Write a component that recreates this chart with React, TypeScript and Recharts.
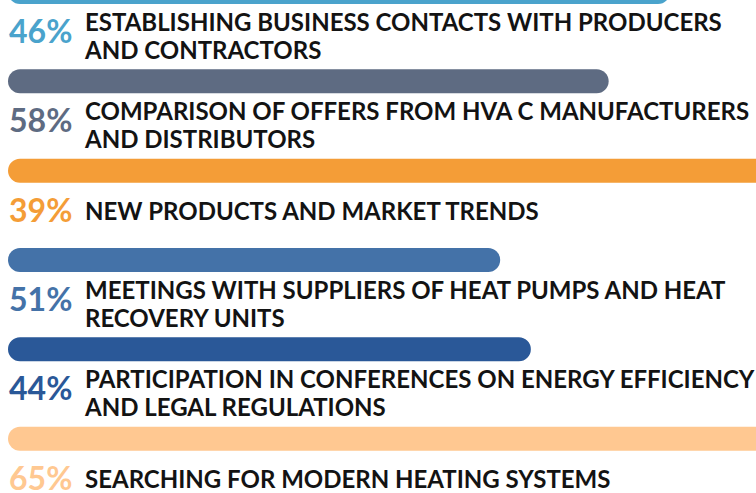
import { BarChart, Bar, XAxis, YAxis, Cell, LabelList } from "recharts"

// rows from top to bottom
const categories = [
  "ESTABLISHING BUSINESS CONTACTS WITH PRODUCERS\nAND CONTRACTORS",
  "COMPARISON OF OFFERS FROM HVA C MANUFACTURERS\nAND DISTRIBUTORS",
  "NEW PRODUCTS AND MARKET TRENDS",
  "MEETINGS WITH SUPPLIERS OF HEAT PUMPS AND HEAT\nRECOVERY UNITS",
  "PARTICIPATION IN CONFERENCES ON ENERGY EFFICIENCY\nAND LEGAL REGULATIONS",
  "SEARCHING FOR MODERN HEATING SYSTEMS",
]
const percents = [46, 58, 39, 51, 44, 65]
// bar length as share of the track (bars past 100 run off the edge)
const barLengths = [88.5, 80.3, 105, 65.8, 69.9, 105]
const colors = ["#4aa3cc", "#5e6b82", "#f49d37", "#4472a8", "#2a5898", "#ffc891"]

const chartData = categories.map((name, i) => ({
  name,
  bar: barLengths[i],
  pct: percents[i],
}))

const FONT = "Lato, 'Open Sans', sans-serif"

function RowLabel(props: any) {
  const { y, height, index } = props
  const cy = y + height / 2 + 41
  const lines = categories[index].split("\n")
  const color = colors[index]
  return (
    <g>
      <text x={9} y={cy + 10} fontFamily={FONT} fontWeight={700} fontSize={32} fill={color}>
        {percents[index]}%
      </text>
      {lines.map((line, k) => {
        const offset = lines.length === 1 ? 0 : k === 0 ? -11 : 17
        return (
          <text key={k} x={85} y={cy + offset + 8.5} fontFamily={FONT} fontWeight={700} fontSize={24} fill="#131313">
            {line}
          </text>
        )
      })}
    </g>
  )
}

export default function App() {
  return (
    <div style={{ position: "fixed", left: 0, top: 0, width: 756, height: 493, overflow: "hidden", background: "#fff" }}>
      <div style={{ position: "absolute", left: 0, top: -53 }}>
        <BarChart
          layout="vertical"
          width={756}
          height={546}
          data={chartData}
          margin={{ top: 0, right: 0, left: 8, bottom: 10 }}
        >
          <XAxis type="number" hide domain={[0, 100]} allowDataOverflow />
          <YAxis type="category" dataKey="name" hide />
          <Bar dataKey="bar" barSize={24} radius={12} isAnimationActive={false}>
            {chartData.map((_, i) => (
              <Cell key={i} fill={colors[i]} />
            ))}
            <LabelList dataKey="pct" content={RowLabel} />
          </Bar>
        </BarChart>
      </div>
    </div>
  )
}
